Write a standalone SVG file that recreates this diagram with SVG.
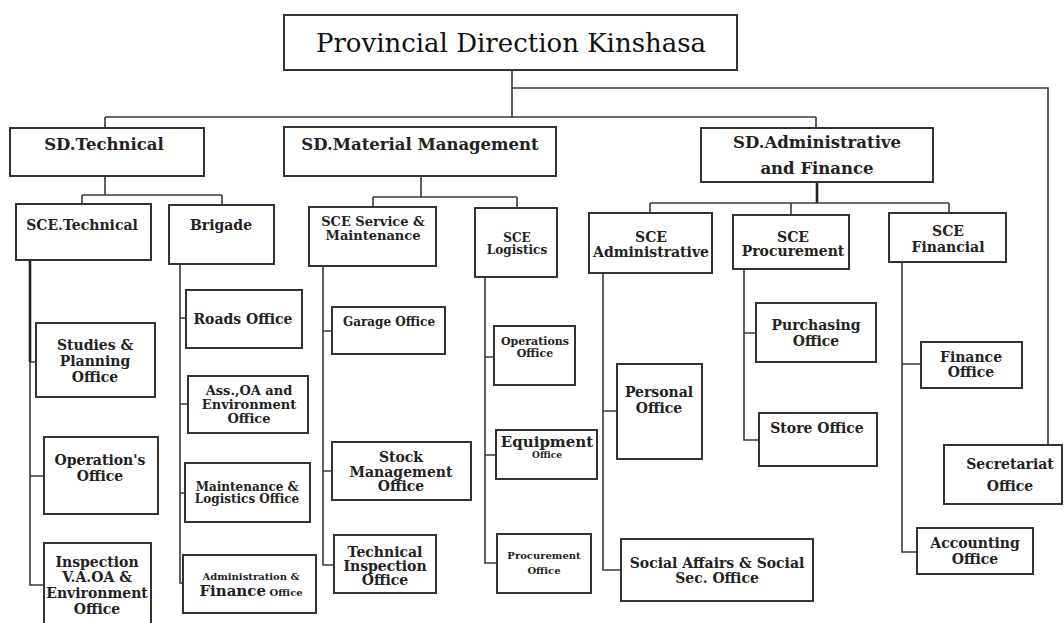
<svg xmlns="http://www.w3.org/2000/svg" width="1064" height="623" viewBox="0 0 1064 623">
<style>
.box{fill:#fff;stroke:#333;stroke-width:2}
.ln{fill:none;stroke:#3a3a3a;stroke-width:1.6}
.th{fill:none;stroke:#222;stroke-width:2.6}
text{font-family:"DejaVu Serif","Liberation Serif",serif;font-weight:bold;fill:#222;text-anchor:middle}
.t0{font-weight:normal;font-size:26px;fill:#111}
.sd{font-size:16.5px}
.s15{font-size:15px}.s14{font-size:14px}.s13{font-size:13px}.s12{font-size:12px}.s11{font-size:11px}.s10{font-size:10px}.s9{font-size:9px}
</style>
<rect width="1064" height="623" fill="#fff"/>
<g id="connectors">
<path class="ln" d="M512 70V117M105 117H816M105 117V128M816 117V128M512 88H1048V445"/>
<path class="ln" d="M105 176V195M82 195H222M82 195V204M222 195V205"/>
<path class="ln" d="M421 176V197M373 197H517M373 197V207M517 197V208"/>
<path class="th" d="M817 182V203"/>
<path class="ln" d="M650 203H949M650 203V213M791 203V215M949 203V213"/>
<path class="th" d="M30 260V362"/>
<path class="ln" d="M30 362V585H44M30 362H36M30 476H44"/>
<path class="ln" d="M180 264V583H183M180 318H186M180 404H188M180 493H185"/>
<path class="ln" d="M323 266V565H334M323 331H332M323 471H332"/>
<path class="ln" d="M485 277V563H497M485 357H494M485 455H496"/>
<path class="ln" d="M603 273V570H621M603 411H617"/>
<path class="ln" d="M744 269V440H759M744 333H756"/>
<path class="ln" d="M902 262V552H917M902 364H921"/>
</g>
<g id="n-root"><rect class="box" x="284" y="15" width="453" height="55"/><text class="t0" x="511" y="52">Provincial Direction Kinshasa</text></g>
<g id="n-sdtech"><rect class="box" x="10" y="128" width="194" height="48"/><text class="sd" x="104" y="150">SD.Technical</text></g>
<g id="n-sdmat"><rect class="box" x="284" y="127" width="272" height="49"/><text class="sd" x="420" y="150">SD.Material Management</text></g>
<g id="n-sdadm"><rect class="box" x="701" y="128" width="232" height="54"/><text class="sd" x="817" y="148">SD.Administrative</text><text class="sd" x="817" y="174">and Finance</text></g>
<g id="n-scetech"><rect class="box" x="16" y="204" width="135" height="56"/><text class="s14" x="82" y="230">SCE.Technical</text></g>
<g id="n-brigade"><rect class="box" x="169" y="205" width="105" height="59"/><text class="s14" x="221" y="230">Brigade</text></g>
<g id="n-sceserv"><rect class="box" x="309" y="207" width="127" height="59"/><text class="s13" x="373" y="226">SCE Service &amp;</text><text class="s13" x="373" y="240">Maintenance</text></g>
<g id="n-scelog"><rect class="box" x="475" y="208" width="82" height="69"/><text class="s12" x="517" y="242">SCE</text><text class="s12" x="517" y="254">Logistics</text></g>
<g id="n-sceadm"><rect class="box" x="589" y="213" width="123" height="60"/><text class="s14" x="651" y="242">SCE</text><text class="s14" x="651" y="257">Administrative</text></g>
<g id="n-sceproc"><rect class="box" x="733" y="215" width="116" height="54"/><text class="s14" x="793" y="242">SCE</text><text class="s14" x="793" y="256">Procurement</text></g>
<g id="n-scefin"><rect class="box" x="889" y="213" width="117" height="49"/><text class="s14" x="948" y="236">SCE</text><text class="s14" x="948" y="252">Financial</text></g>
<g id="n-studies"><rect class="box" x="36" y="323" width="119" height="74"/><text class="s14" x="95" y="350">Studies &amp;</text><text class="s14" x="95" y="366">Planning</text><text class="s14" x="95" y="382">Office</text></g>
<g id="n-operation"><rect class="box" x="44" y="437" width="114" height="77"/><text class="s14" x="100" y="465">Operation's</text><text class="s14" x="100" y="481">Office</text></g>
<g id="n-inspection"><rect class="box" x="44" y="543" width="107" height="84"/><text class="s14" x="97" y="567">Inspection</text><text class="s14" x="97" y="582">V.A.OA  &amp;</text><text class="s14" x="97" y="598">Environment</text><text class="s14" x="97" y="614">Office</text></g>
<g id="n-roads"><rect class="box" x="186" y="290" width="116" height="58"/><text class="s14" x="243" y="324">Roads Office</text></g>
<g id="n-ass"><rect class="box" x="188" y="376" width="120" height="57"/><text class="s13" x="249" y="395">Ass.,OA and</text><text class="s13" x="249" y="409">Environment</text><text class="s13" x="249" y="423">Office</text></g>
<g id="n-maint"><rect class="box" x="185" y="463" width="125" height="59"/><text class="s12" x="247" y="491">Maintenance &amp;</text><text class="s12" x="247" y="503">Logistics Office</text></g>
<g id="n-admfin"><rect class="box" x="183" y="555" width="133" height="58"/><text class="s10" x="251" y="580">Administration &amp;</text><text x="251" y="596"><tspan class="s15">Finance</tspan><tspan class="s10"> Office</tspan></text></g>
<g id="n-garage"><rect class="box" x="332" y="307" width="113" height="47"/><text class="s12" x="389" y="326">Garage Office</text></g>
<g id="n-stock"><rect class="box" x="332" y="442" width="139" height="58"/><text class="s14" x="401" y="462">Stock</text><text class="s14" x="401" y="477">Management</text><text class="s14" x="401" y="491">Office</text></g>
<g id="n-techinsp"><rect class="box" x="334" y="535" width="102" height="58"/><text class="s14" x="385" y="557">Technical</text><text class="s14" x="385" y="571">Inspection</text><text class="s14" x="385" y="585">Office</text></g>
<g id="n-operations"><rect class="box" x="494" y="326" width="81" height="59"/><text class="s11" x="535" y="345">Operations</text><text class="s11" x="535" y="357">Office</text></g>
<g id="n-equipment"><rect class="box" x="496" y="430" width="101" height="49"/><text class="s15" x="547" y="447">Equipment</text><text class="s9" x="547" y="458">Office</text></g>
<g id="n-procoff"><rect class="box" x="497" y="534" width="94" height="59"/><text class="s10" x="544" y="559">Procurement</text><text class="s10" x="544" y="574">Office</text></g>
<g id="n-personal"><rect class="box" x="617" y="364" width="85" height="95"/><text class="s14" x="659" y="397">Personal</text><text class="s14" x="659" y="413">Office</text></g>
<g id="n-social"><rect class="box" x="621" y="539" width="192" height="62"/><text class="s14" x="717" y="568">Social Affairs &amp; Social</text><text class="s14" x="717" y="583">Sec. Office</text></g>
<g id="n-purchasing"><rect class="box" x="756" y="303" width="120" height="59"/><text class="s14" x="816" y="330">Purchasing</text><text class="s14" x="816" y="346">Office</text></g>
<g id="n-store"><rect class="box" x="759" y="413" width="118" height="53"/><text class="s14" x="817" y="433">Store Office</text></g>
<g id="n-finoff"><rect class="box" x="921" y="342" width="101" height="46"/><text class="s14" x="971" y="362">Finance</text><text class="s14" x="971" y="377">Office</text></g>
<g id="n-secretariat"><rect class="box" x="944" y="445" width="118" height="59"/><text class="s14" x="1010" y="469">Secretariat</text><text class="s14" x="1010" y="491">Office</text></g>
<g id="n-accounting"><rect class="box" x="917" y="528" width="116" height="46"/><text class="s14" x="975" y="548">Accounting</text><text class="s14" x="975" y="564">Office</text></g>
</svg>
